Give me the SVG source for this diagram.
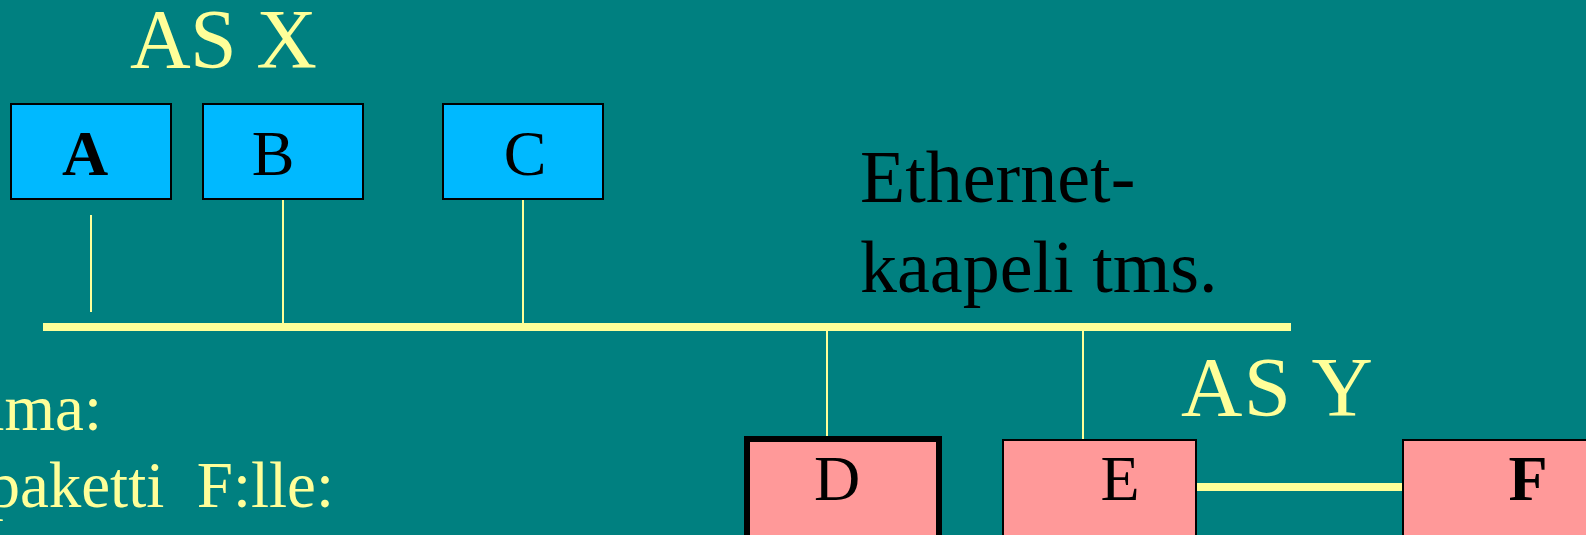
<svg xmlns="http://www.w3.org/2000/svg" width="1586" height="535" viewBox="0 0 1586 535">
<style>
.t{font-family:"Liberation Serif","Times New Roman",serif}
.y{fill:#FFFF99}
.k{fill:#000}
.lbl{font-size:64px;text-anchor:middle}
.blue{fill:#00B9FF;stroke:#000;stroke-width:2}
.pink{fill:#FF9999;stroke:#000;stroke-width:2}
.bold-border{stroke-width:6}
.thin{stroke:#FFFF99;stroke-width:2;fill:none}
.thick{stroke:#FFFF99;stroke-width:8;fill:none}
</style>
<rect width="1586" height="535" fill="#008080"/>
<text class="t y" x="130" y="68" font-size="84" textLength="187">AS X</text>
<text class="t k" x="860" y="202" font-size="74">Ethernet-</text>
<text class="t k" x="860" y="292" font-size="74">kaapeli tms.</text>
<text class="t y" x="1181" y="416" font-size="85" textLength="192">AS Y</text>
<text class="t y" x="102" y="430" font-size="65" text-anchor="end">lma:</text>
<text class="t y" x="334" y="507" font-size="65" text-anchor="end" xml:space="preserve">paketti  F:lle:</text>
<g id="connectors">
<line class="thick" x1="43" y1="327" x2="1291" y2="327"/>
<line class="thin" x1="91" y1="215" x2="91" y2="312"/>
<line class="thin" x1="283" y1="199" x2="283" y2="327"/>
<line class="thin" x1="523" y1="199" x2="523" y2="327"/>
<line class="thin" x1="827" y1="327" x2="827" y2="437"/>
<line class="thin" x1="1083" y1="327" x2="1083" y2="440"/>
<line class="thick" x1="1196" y1="487" x2="1403" y2="487"/>
</g>
<g id="node-A">
<rect class="blue" x="11" y="104" width="160" height="95"/>
<text class="t k lbl" x="85" y="175" font-weight="bold">A</text>
</g>
<g id="node-B">
<rect class="blue" x="203" y="104" width="160" height="95"/>
<text class="t k lbl" x="273" y="175">B</text>
</g>
<g id="node-C">
<rect class="blue" x="443" y="104" width="160" height="95"/>
<text class="t k lbl" x="525" y="175">C</text>
</g>
<g id="node-D">
<rect class="pink bold-border" x="747" y="439" width="192" height="110"/>
<text class="t k lbl" x="837" y="500">D</text>
</g>
<g id="node-E">
<rect class="pink" x="1003" y="440" width="193" height="110"/>
<text class="t k lbl" x="1120" y="500">E</text>
</g>
<g id="node-F">
<rect class="pink" x="1403" y="440" width="200" height="110"/>
<text class="t k lbl" x="1528" y="500" font-weight="bold">F</text>
</g>
</svg>
